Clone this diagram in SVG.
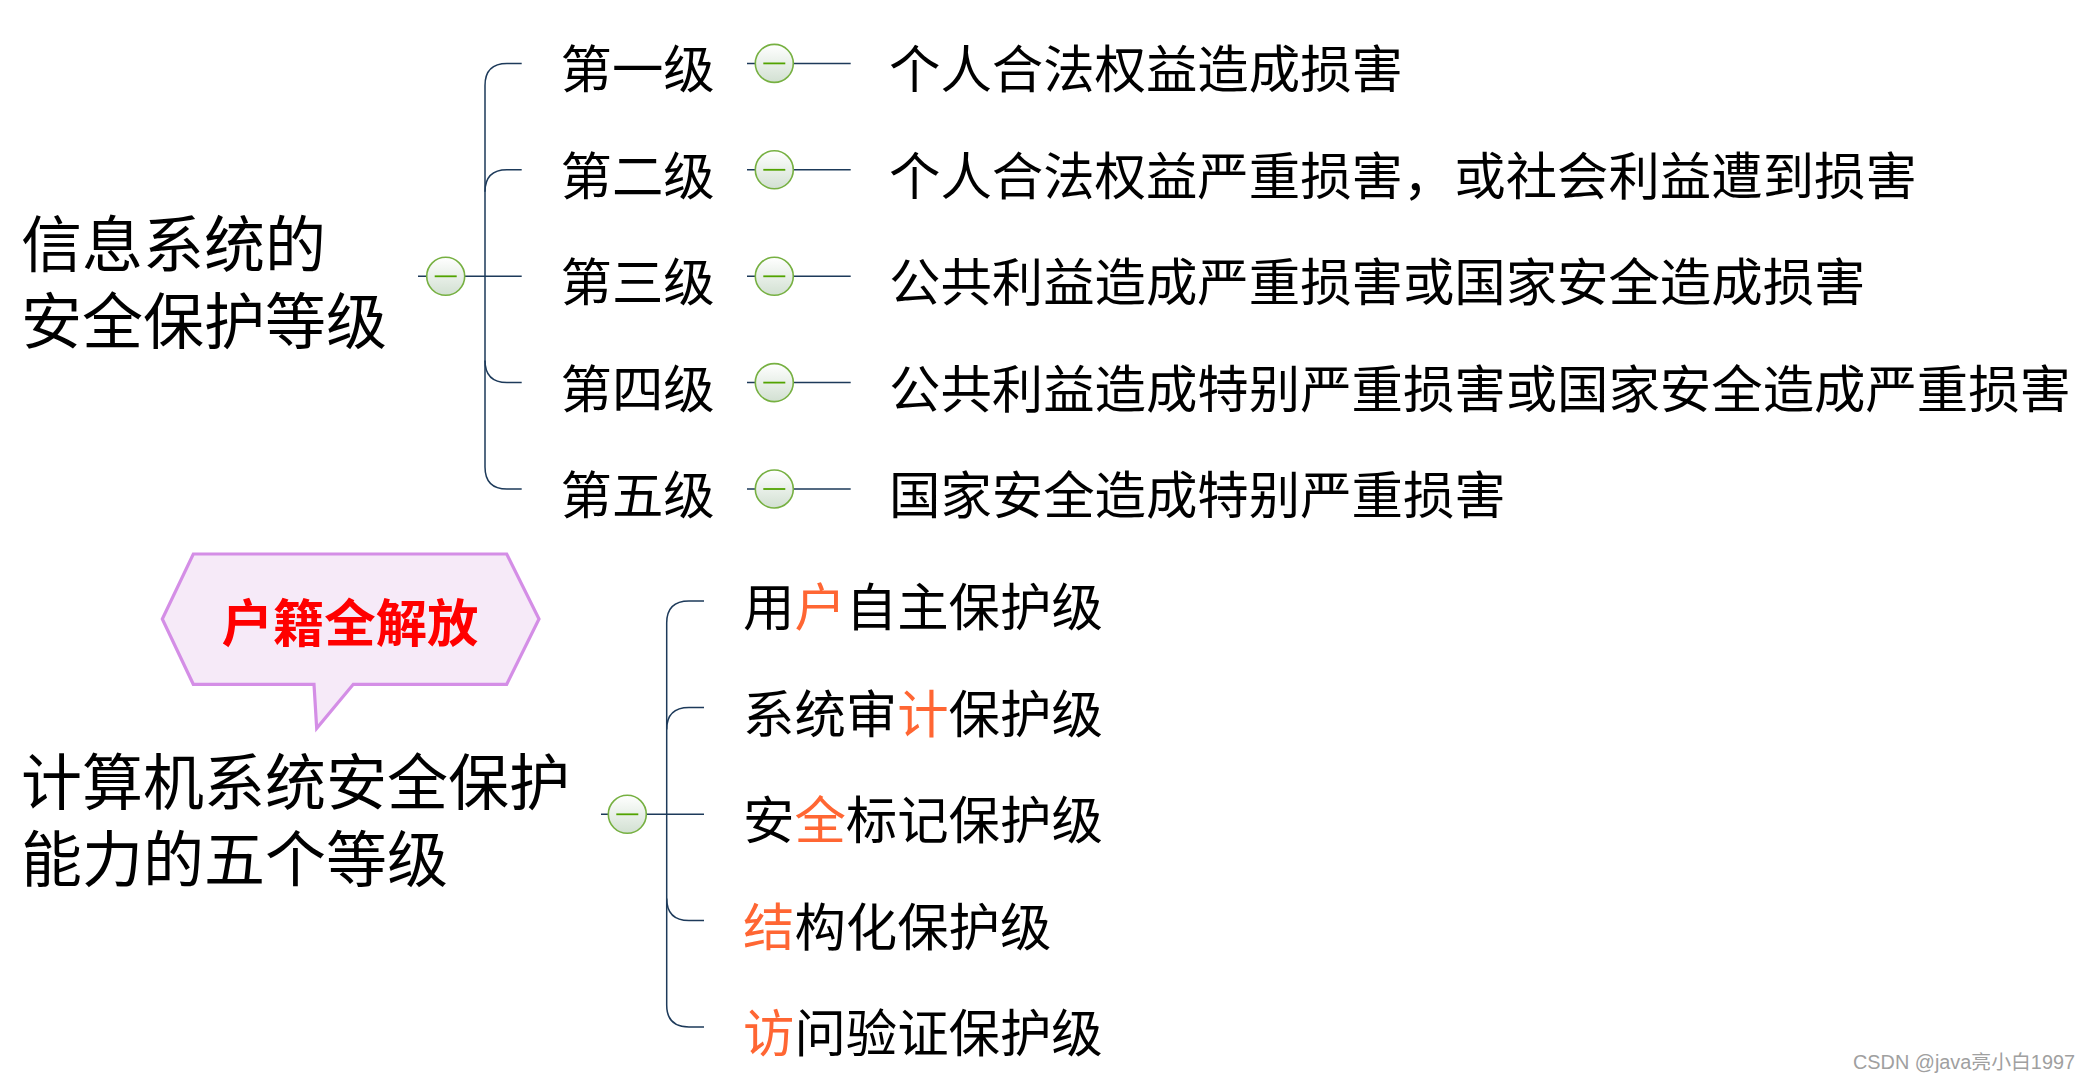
<svg xmlns="http://www.w3.org/2000/svg" width="2082" height="1082" viewBox="0 0 2082 1082">
<style>
.t{font-family:"Microsoft YaHei","Noto Sans CJK SC",sans-serif;font-size:51.4px;fill:#000}
.big{font-size:61px}
.hl{fill:#ff6633}
.cn{fill:none;stroke:#1d3a5a;stroke-width:1.5}
.tog circle{fill:url(#g);stroke:#76b041;stroke-width:1.6}
.tog line{stroke:#52a300;stroke-width:1.8}
</style>
<defs>
<linearGradient id="g" x1="0" y1="0" x2="0" y2="1">
<stop offset="0" stop-color="#ffffff"/>
<stop offset="1" stop-color="#d2e0d2"/>
</linearGradient>
<symbol id="tg" overflow="visible"><g class="tog"><circle cx="0" cy="0" r="19"/><line x1="-11" y1="0" x2="11" y2="0"/></g></symbol>
</defs>
<rect width="2082" height="1082" fill="#fff"/>

<g id="connectors">
<path class="cn" d="M418 276.3H521.7"/>
<path class="cn" d="M521.7 63.4H507Q485 63.4 485 85.4V467Q485 489 507 489H521.7"/>
<path class="cn" d="M521.7 169.8H507Q485 169.8 485 191.8"/>
<path class="cn" d="M485 360.6Q485 382.6 507 382.6H521.7"/>
<path class="cn" d="M747 63.4H850.7M747 169.8H850.7M747 276.3H850.7M747 382.6H850.7M747 489H850.7"/>
<path class="cn" d="M601 814.3H704"/>
<path class="cn" d="M704 601H689Q666.7 601 666.7 623V1005Q666.7 1027 689 1027H704"/>
<path class="cn" d="M704 707.5H689Q666.7 707.5 666.7 729.5"/>
<path class="cn" d="M666.7 898.5Q666.7 920.5 689 920.5H704"/>
</g>

<g id="root1">
<text class="t big" x="21" y="266.5">信息系统的</text>
<text class="t big" x="21" y="344">安全保护等级</text>
<use href="#tg" x="445.7" y="276.3"/>
</g>

<g id="level1"><text class="t" x="560.5" y="88.4">第一级</text><use href="#tg" x="774.3" y="63.4"/></g>
<g id="level2"><text class="t" x="560.5" y="194.8">第二级</text><use href="#tg" x="774.3" y="169.8"/></g>
<g id="level3"><text class="t" x="560.5" y="301.2">第三级</text><use href="#tg" x="774.3" y="276.3"/></g>
<g id="level4"><text class="t" x="560.5" y="407.6">第四级</text><use href="#tg" x="774.3" y="382.6"/></g>
<g id="level5"><text class="t" x="560.5" y="514">第五级</text><use href="#tg" x="774.3" y="489"/></g>

<g id="desc1"><text class="t" x="889" y="88.4">个人合法权益造成损害</text></g>
<g id="desc2"><text class="t" x="889" y="194.8">个人合法权益严重损害，或社会利益遭到损害</text></g>
<g id="desc3"><text class="t" x="889" y="301.2">公共利益造成严重损害或国家安全造成损害</text></g>
<g id="desc4"><text class="t" x="889" y="407.6">公共利益造成特别严重损害或国家安全造成严重损害</text></g>
<g id="desc5"><text class="t" x="889" y="514">国家安全造成特别严重损害</text></g>

<g id="callout">
<polygon points="193.3,554 506.7,554 539,619 506.7,684.3 353.3,684.3 316.7,728.3 314,684.3 193.3,684.3 162.3,619" fill="#f6eaf8" stroke="#d48ee6" stroke-width="3.2" stroke-linejoin="miter"/>
<text class="t" x="350" y="641.5" text-anchor="middle" font-weight="bold" style="fill:#ff0000">户籍全解放</text>
</g>

<g id="root2">
<text class="t big" x="21" y="805">计算机系统安全保护</text>
<text class="t big" x="21" y="882">能力的五个等级</text>
<use href="#tg" x="627.3" y="814.3"/>
</g>

<g id="item1"><text class="t" x="743" y="626">用<tspan class="hl">户</tspan>自主保护级</text></g>
<g id="item2"><text class="t" x="743" y="732.5">系统审<tspan class="hl">计</tspan>保护级</text></g>
<g id="item3"><text class="t" x="743" y="839">安<tspan class="hl">全</tspan>标记保护级</text></g>
<g id="item4"><text class="t" x="743" y="945.5"><tspan class="hl">结</tspan>构化保护级</text></g>
<g id="item5"><text class="t" x="743" y="1052"><tspan class="hl">访</tspan>问验证保护级</text></g>

<text x="1853" y="1069.3" font-family="'Liberation Sans','Noto Sans CJK SC',sans-serif" font-size="19.5" textLength="222" lengthAdjust="spacingAndGlyphs" fill="#a0a0a0">CSDN @java亮小白1997</text>
</svg>
